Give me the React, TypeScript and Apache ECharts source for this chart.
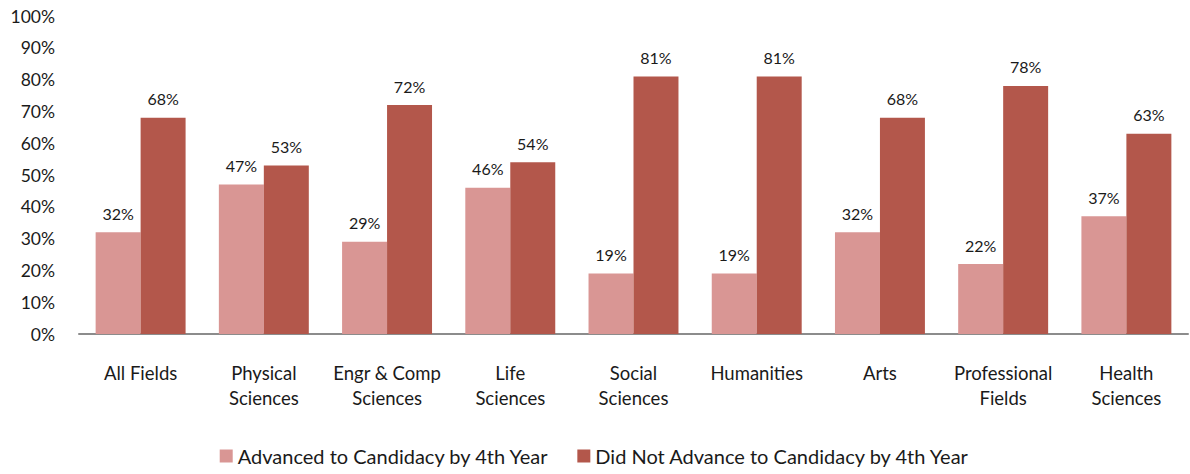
import React, { useEffect, useRef } from "react";
import * as echarts from "echarts";

const categories = [
  "All Fields",
  "Physical\nSciences",
  "Engr & Comp\nSciences",
  "Life\nSciences",
  "Social\nSciences",
  "Humanities",
  "Arts",
  "Professional\nFields",
  "Health\nSciences",
];
const advanced = [32, 47, 29, 46, 19, 19, 32, 22, 37];
const notAdvanced = [68, 53, 72, 54, 81, 81, 68, 78, 63];
const seriesNames = [
  "Advanced to Candidacy by 4th Year",
  "Did Not Advance to Candidacy by 4th Year",
];

const FONT = "Lato, 'Open Sans', sans-serif";

export default function App() {
  const ref = useRef<HTMLDivElement>(null);
  useEffect(() => {
    if (!ref.current) return;
    const chart = echarts.init(ref.current, undefined, { renderer: "svg" });
    const label = {
      show: true,
      position: "top",
      distance: 11,
      formatter: "{c}%",
      color: "#1a1a1a",
      fontSize: 16,
      fontFamily: FONT,
    };
    chart.setOption({
      animation: false,
      textStyle: { fontFamily: FONT },
      grid: { left: 79, right: 2, top: 16, bottom: 140, containLabel: false },
      legend: {
        bottom: 3,
        left: "center",
        itemWidth: 13,
        itemHeight: 13,
        itemGap: 28,
        icon: "rect",
        textStyle: { fontSize: 20, color: "#1a1a1a", fontFamily: FONT },
        data: seriesNames,
      },
      xAxis: {
        type: "category",
        data: categories,
        axisLine: { show: true, lineStyle: { color: "#8c8c8c", width: 2 } },
        axisTick: { show: false },
        axisLabel: {
          color: "#1a1a1a",
          fontSize: 18.5,
          lineHeight: 25,
          margin: 26,
          interval: 0,
          fontFamily: FONT,
        },
      },
      yAxis: {
        type: "value",
        min: 0,
        max: 100,
        interval: 10,
        axisLine: { show: false },
        axisTick: { show: false },
        splitLine: { show: false },
        axisLabel: {
          formatter: "{value}%",
          color: "#1a1a1a",
          fontSize: 17.5,
          margin: 24,
          fontFamily: FONT,
        },
      },
      series: [
        {
          name: seriesNames[0],
          type: "bar",
          data: advanced,
          barGap: "0%",
          barCategoryGap: "27%",
          itemStyle: { color: "#D99694" },
          label,
        },
        {
          name: seriesNames[1],
          type: "bar",
          data: notAdvanced,
          barGap: "0%",
          barCategoryGap: "27%",
          itemStyle: { color: "#B3574B" },
          label,
        },
      ],
    });
    return () => chart.dispose();
  }, []);
  return (
    <div
      ref={ref}
      style={{ position: "absolute", left: 0, top: 0, width: 1190, height: 474, background: "#fff" }}
    />
  );
}
